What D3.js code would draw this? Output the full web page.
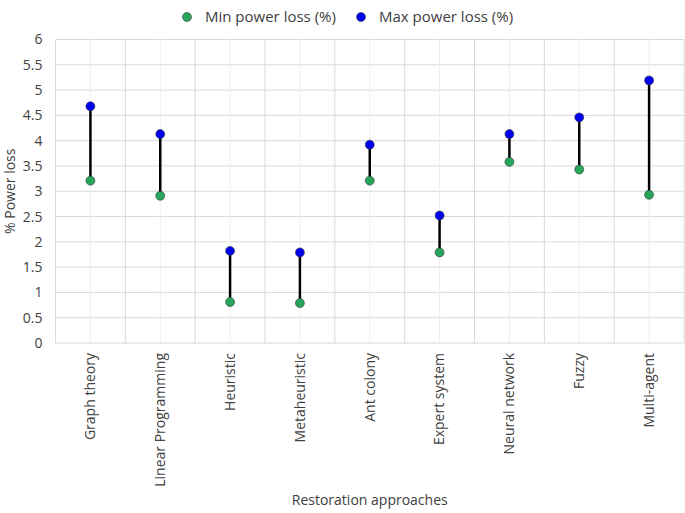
<!DOCTYPE html>
<html>
<head>
<meta charset="utf-8">
<script src="https://cdn.jsdelivr.net/npm/d3@7"></script>
<style>
  body { margin: 0; background: #fff; }
  text { font-family: "Open Sans", "Noto Sans", sans-serif; fill: #404040; }
</style>
</head>
<body>
<svg id="svg1" width="685" height="513"></svg>
<script>
// data
const approaches = ["Graph theory", "Linear Programming", "Heuristic", "Metaheuristic",
    "Ant colony", "Expert system", "Neural network", "Fuzzy", "Multi-agent"];
const minLoss = [3.21, 2.91, 0.81, 0.79, 3.21, 1.79, 3.58, 3.43, 2.93];
const maxLoss = [4.68, 4.13, 1.82, 1.79, 3.92, 2.52, 4.13, 4.46, 5.19];
const yTicks = [0, 0.5, 1, 1.5, 2, 2.5, 3, 3.5, 4, 4.5, 5, 5.5, 6];
const seriesNames = ["Min power loss (%)", "Max power loss (%)"];
const seriesColors = ["#26a65b", "#0000f0"];

let svg = d3.select("#svg1");
let margin = { top: 39.5, right: 1, bottom: 170, left: 55.5 };
let width = 685 - margin.left - margin.right;
let height = 513 - margin.top - margin.bottom;

let x = d3.scaleBand().domain(approaches).range([0, width]);
let y = d3.scaleLinear().domain([0, 6]).range([height, 0]);

let g = svg.append("g").attr("transform", `translate(${margin.left},${margin.top})`);

// horizontal grid
g.selectAll(".hgrid").data(yTicks).enter().append("line")
    .attr("x1", 0).attr("x2", width)
    .attr("y1", d => y(d)).attr("y2", d => y(d))
    .attr("stroke", "#d9d9d9").attr("stroke-width", 1);

// minor vertical grid at category centres
g.selectAll(".vminor").data(approaches).enter().append("line")
    .attr("x1", d => x(d) + x.bandwidth() / 2).attr("x2", d => x(d) + x.bandwidth() / 2)
    .attr("y1", 0).attr("y2", height)
    .attr("stroke", "#eeeeee").attr("stroke-width", 1);

// major vertical grid at band edges
let edges = approaches.map(d => x(d)).concat([width]);
g.selectAll(".vmajor").data(edges).enter().append("line")
    .attr("x1", d => d).attr("x2", d => d)
    .attr("y1", 0).attr("y2", height)
    .attr("stroke", "#d9d9d9").attr("stroke-width", 1);

// y axis labels
let yAxis = g.append("g").call(d3.axisLeft(y).tickValues(yTicks).tickFormat(d => d).tickSize(0).tickPadding(13));
yAxis.select(".domain").remove();
yAxis.selectAll("text").style("font-size", "14px").attr("fill", "#404040");

// x axis labels (rotated)
let xAxis = g.append("g").attr("transform", `translate(0,${height})`)
    .call(d3.axisBottom(x).tickSize(0));
xAxis.select(".domain").remove();
xAxis.selectAll("text")
    .style("font-size", "14px").attr("fill", "#404040")
    .attr("transform", "rotate(-90)")
    .attr("text-anchor", "end")
    .attr("x", -10).attr("y", 0).attr("dy", "0.35em")
    .attr("dx", 0);

// range lines
g.selectAll(".range").data(approaches).enter().append("line")
    .attr("x1", d => x(d) + x.bandwidth() / 2).attr("x2", d => x(d) + x.bandwidth() / 2)
    .attr("y1", (d, i) => y(minLoss[i])).attr("y2", (d, i) => y(maxLoss[i]))
    .attr("stroke", "#000").attr("stroke-width", 2.5);

// points
[minLoss, maxLoss].forEach((vals, s) => {
    g.selectAll(".pt" + s).data(approaches).enter().append("circle")
        .attr("cx", d => x(d) + x.bandwidth() / 2)
        .attr("cy", (d, i) => y(vals[i]))
        .attr("r", 4.5)
        .attr("fill", seriesColors[s])
        .attr("stroke", "#3a3a3a").attr("stroke-width", 0.6);
});

// axis titles
svg.append("text")
    .attr("x", margin.left + width / 2).attr("y", 505)
    .attr("text-anchor", "middle").style("font-size", "14px")
    .text("Restoration approaches");
svg.append("text")
    .attr("transform", `translate(15,${margin.top + height / 2}) rotate(-90)`)
    .attr("text-anchor", "middle").style("font-size", "14px")
    .text("% Power loss");

// legend
let legendX = [187, 361];
let legend = svg.append("g").selectAll("g").data(seriesNames).enter().append("g")
    .attr("transform", (d, i) => `translate(${legendX[i]},17)`);
legend.append("circle").attr("r", 4.5)
    .attr("fill", (d, i) => seriesColors[i])
    .attr("stroke", "#3a3a3a").attr("stroke-width", 0.6);
legend.append("text").attr("x", 18).attr("dy", "0.35em")
    .style("font-size", "15px").text(d => d);
</script>
</body>
</html>
